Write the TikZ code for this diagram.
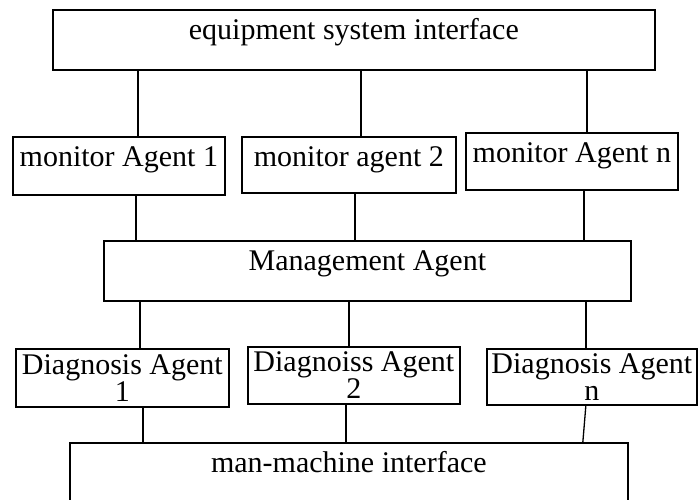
\documentclass[tikz,border=0pt]{standalone}
\usepackage{fontspec}
\setmainfont{Liberation Serif}
\usetikzlibrary{positioning}
\usetikzlibrary{calc}

\begin{document}
\begin{tikzpicture}[
			x = 1pt, y = -1pt,
			font = \fontsize{30}{27}\selectfont,
			box/.style = {
				draw = black, line width = 1.7pt, rectangle,
				anchor = north west, inner sep = 0pt,
				text height = 30pt,
			},
			twoline/.style = {
				draw = black, line width = 1.7pt, rectangle,
				anchor = north west, inner sep = 0pt, align = center,
			},
			link/.style = {line width = 1.3pt, draw = black},
		]
		\useasboundingbox (0,0) rectangle (698,500);

		% interface on top
		\node[box, minimum width = 602pt, text depth = 30pt] (sysif) at (52,9)
			{equipment system interface};

		% monitor agents
		\node[box, minimum width = 212pt, text depth = 28pt] (mon1) at (12,136)
			{monitor Agent 1};
		\node[box, minimum width = 214pt, text depth = 26pt] (mon2) at (241,136)
			{monitor agent 2};
		\node[box, minimum width = 212pt, text depth = 27pt] (mon3) at (465,132)
			{monitor Agent n};

		\node[box, minimum width = 527pt, text depth = 30pt] (mgmt) at (103,240)
			{Management Agent};

		% diagnosis agents
		\node[twoline, minimum width = 213pt, minimum height = 58pt] (diag1) at (15,348)
			{Diagnosis Agent\\1};
		\node[twoline, minimum width = 212pt, minimum height = 57pt] (diag2) at (247,346)
			{Diagnoiss Agent\\2};
		\node[twoline, minimum width = 210pt, minimum height = 56pt] (diag3) at (486,348)
			{Diagnosis Agent\\n};

		\node[box, minimum width = 558pt, text depth = 50pt] (mmi) at (69,442)
			{man-machine interface};

		\draw[link] (sysif.south -| {$(mon1.north)+(19,0)$}) -- ([xshift=19pt]mon1.north);
		\draw[link] (sysif.south -| {$(mon2.north)+(12,0)$}) -- ([xshift=12pt]mon2.north);
		\draw[link] (sysif.south -| {$(mon3.north)+(15,0)$}) -- ([xshift=15pt]mon3.north);

		\draw[link] ([xshift=17pt]mon1.south) -- (mgmt.north -| {$(mon1.south)+(17,0)$});
		\draw[link] ([xshift=6pt]mon2.south) -- (mgmt.north -| {$(mon2.south)+(6,0)$});
		\draw[link] ([xshift=12pt]mon3.south) -- (mgmt.north -| {$(mon3.south)+(12,0)$});

		\draw[link] (mgmt.south -| {$(diag1.north)+(17.5,0)$}) -- ([xshift=17.5pt]diag1.north);
		\draw[link] (mgmt.south -| {$(diag2.north)+(-5,0)$}) -- ([xshift=-5pt]diag2.north);
		\draw[link] (mgmt.south -| {$(diag3.north)+(-6,0)$}) -- ([xshift=-6pt]diag3.north);

		\draw[link] ([xshift=20.5pt]diag1.south) -- (mmi.north -| {$(diag1.south)+(20.5,0)$});
		\draw[link] ([xshift=-8pt]diag2.south) -- (mmi.north -| {$(diag2.south)+(-8,0)$});
		\draw[link] ([xshift=-6pt]diag3.south) -- (mmi.north -| {$(diag3.south)+(-9,0)$});

	\end{tikzpicture}
\end{document}
